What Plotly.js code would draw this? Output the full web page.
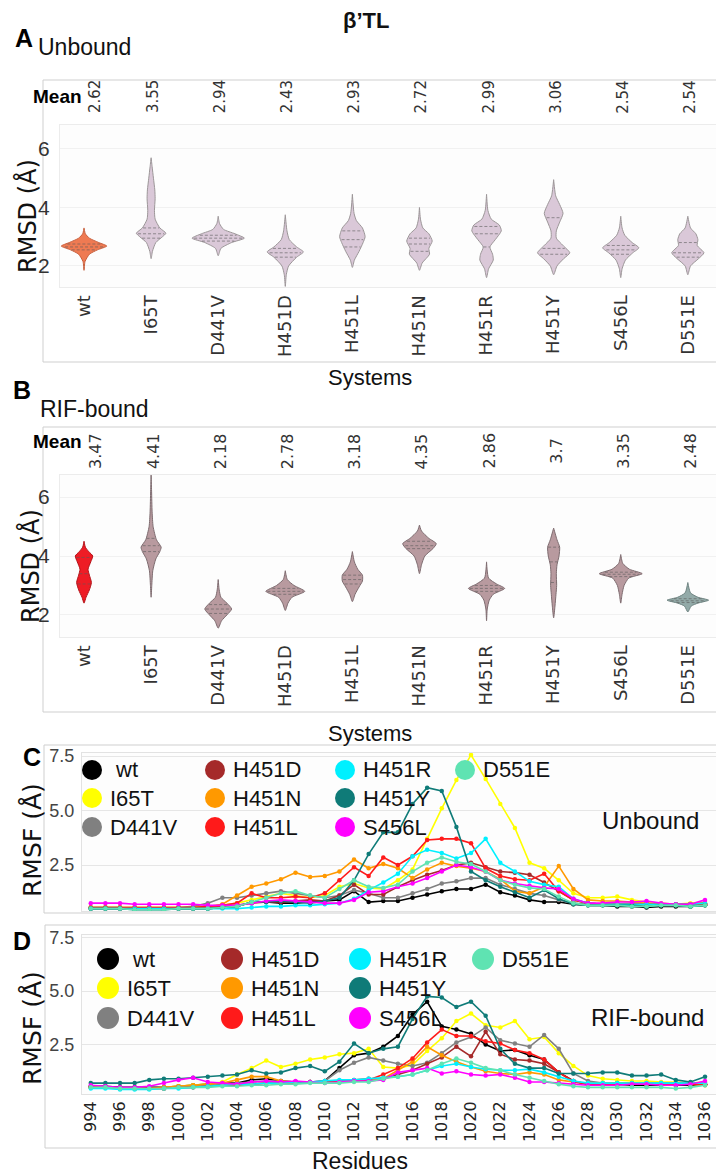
<!DOCTYPE html>
<html>
<head>
<meta charset="utf-8">
<script src="https://cdn.plot.ly/plotly-3.0.1.min.js"></script>
<style>
  html, body { margin: 0; padding: 0; background: #fff; }
  #fig { width: 716px; height: 1175px; }
</style>
</head>
<body>
<div id="fig"></div>
<script>
// ---------- RMSD violin data (panels A and B) ----------
const systems = ['wt', 'I65T', 'D441V', 'H451D', 'H451L', 'H451N', 'H451R', 'H451Y', 'S456L', 'D551E'];
const meanUnbound = [2.62, 3.55, 2.94, 2.43, 2.93, 2.72, 2.99, 3.06, 2.54, 2.54];
const meanBound = [3.47, 4.41, 2.18, 2.78, 3.18, 4.35, 2.86, 3.7, 3.35, 2.48];

// density outline per system: [RMSD, half-width]
const shapeUnbound = [
  [[1.85,0],[2.15,0.015],[2.4,0.08],[2.55,0.2],[2.68,0.34],[2.8,0.22],[2.95,0.08],[3.1,0.02],[3.3,0]],
  [[2.25,0],[2.5,0.02],[2.8,0.07],[3.0,0.17],[3.12,0.22],[3.3,0.13],[3.6,0.06],[3.9,0.05],[4.3,0.06],[4.6,0.055],[5.0,0.035],[5.4,0.015],[5.7,0]],
  [[2.35,0],[2.6,0.04],[2.8,0.2],[2.95,0.39],[3.1,0.25],[3.25,0.08],[3.45,0.02],[3.7,0]],
  [[1.3,0],[1.7,0.015],[2.0,0.05],[2.3,0.17],[2.48,0.27],[2.65,0.17],[2.9,0.06],[3.2,0.025],[3.75,0]],
  [[1.95,0],[2.2,0.03],[2.5,0.1],[2.8,0.16],[3.0,0.19],[3.3,0.15],[3.55,0.06],[3.8,0.025],[4.45,0]],
  [[1.85,0],[2.1,0.04],[2.4,0.15],[2.6,0.14],[2.85,0.19],[3.1,0.14],[3.3,0.05],[3.6,0.015],[4.0,0]],
  [[1.6,0],[1.9,0.03],[2.2,0.1],[2.4,0.09],[2.65,0.05],[2.9,0.13],[3.2,0.22],[3.4,0.19],[3.6,0.07],[3.9,0.02],[4.45,0]],
  [[1.7,0],[2.0,0.05],[2.25,0.15],[2.45,0.24],[2.7,0.14],[2.95,0.04],[3.2,0.04],[3.5,0.09],[3.8,0.14],[4.1,0.09],[4.4,0.03],[4.95,0]],
  [[1.6,0],[1.9,0.02],[2.2,0.07],[2.45,0.18],[2.62,0.27],[2.8,0.17],[3.05,0.06],[3.3,0.02],[3.7,0]],
  [[1.7,0],[2.0,0.04],[2.25,0.16],[2.45,0.24],[2.7,0.14],[2.9,0.15],[3.1,0.12],[3.3,0.04],[3.7,0]]
];
const shapeBound = [
  [[2.4,0],[2.6,0.03],[2.85,0.08],[3.1,0.11],[3.35,0.08],[3.55,0.06],[3.8,0.1],[4.0,0.13],[4.15,0.07],[4.3,0.02],[4.5,0]],
  [[2.6,0],[3.0,0.01],[3.5,0.025],[3.9,0.07],[4.15,0.13],[4.3,0.15],[4.55,0.08],[5.0,0.03],[5.5,0.015],[6.2,0.007],[6.75,0]],
  [[1.55,0],[1.8,0.05],[2.0,0.13],[2.2,0.2],[2.4,0.13],[2.6,0.04],[2.85,0.015],[3.2,0]],
  [[2.15,0],[2.4,0.04],[2.6,0.1],[2.8,0.29],[3.0,0.13],[3.2,0.03],[3.5,0]],
  [[2.45,0],[2.7,0.04],[2.95,0.1],[3.15,0.15],[3.35,0.15],[3.55,0.08],[3.8,0.03],[4.15,0]],
  [[3.4,0],[3.7,0.03],[4.0,0.08],[4.25,0.2],[4.42,0.25],[4.6,0.14],[4.85,0.03],[5.05,0]],
  [[1.8,0],[2.2,0.01],[2.5,0.04],[2.7,0.1],[2.9,0.27],[3.05,0.15],[3.25,0.03],[3.8,0]],
  [[1.9,0],[2.3,0.02],[2.7,0.035],[3.0,0.045],[3.4,0.04],[3.7,0.05],[4.0,0.08],[4.3,0.09],[4.55,0.05],[4.95,0]],
  [[2.4,0],[2.7,0.02],[3.0,0.05],[3.25,0.12],[3.4,0.32],[3.55,0.13],[3.75,0.03],[4.05,0]],
  [[2.1,0],[2.3,0.05],[2.4,0.15],[2.5,0.31],[2.6,0.15],[2.75,0.04],[3.1,0]]
];
// quartiles (Q1, median, Q3)
const quartUnbound = [[2.55,2.65,2.75],[2.95,3.1,3.3],[2.85,2.95,3.05],[2.3,2.45,2.6],[2.65,2.9,3.2],
  [2.5,2.75,2.95],[2.65,3.1,3.35],[2.4,2.6,3.65],[2.4,2.55,2.7],[2.3,2.45,2.8]];
const quartBound = [[3.05,3.4,3.95],[4.15,4.35,4.6],[2.05,2.2,2.35],[2.7,2.8,2.9],[3.05,3.2,3.35],
  [4.25,4.35,4.5],[2.8,2.9,3.0],[3.1,3.8,4.3],[3.3,3.38,3.45],[2.42,2.48,2.55]];

// ---------- RMSF data (panels C and D) ----------
const residues = [994,995,996,997,998,999,1000,1001,1002,1003,1004,1005,1006,1007,1008,1009,1010,1011,1012,1013,
  1014,1015,1016,1017,1018,1019,1020,1021,1022,1023,1024,1025,1026,1027,1028,1029,1030,1031,1032,1033,1034,1035,1036];
const rmsfNames = ['wt','I65T','D441V','H451D','H451N','H451L','H451R','H451Y','S456L','D551E'];
const rmsfColors = ['#000000','#ffff00','#808080','#a52a2a','#ff9900','#ff1a1a','#00f0ff','#0f7b78','#ff00ff','#5fe3b2'];

const wtUnbound    = [0.5,0.5,0.5,0.5,0.5,0.5,0.5,0.5,0.5,0.55, 0.6,0.8,0.8,0.75,0.75,0.8,0.85,0.9,1.3,0.8, 0.85,0.85,1.0,1.15,1.3,1.4,1.4,1.6,1.25,1.1, 0.9,0.8,0.8,0.7,0.65,0.65,0.6,0.6,0.55,0.6, 0.6,0.6,0.65];
const i65tUnbound  = [0.55,0.55,0.55,0.55,0.55,0.55,0.55,0.55,0.6,0.65, 0.75,0.9,1.05,1.2,1.1,1.0,1.1,1.5,1.65,1.45, 1.4,1.8,2.3,3.7,5.1,6.4,7.55,6.45,5.3,4.2, 2.6,2.35,1.8,1.2,1.0,1.0,1.05,0.9,0.8,0.75, 0.7,0.75,0.8];
const d441vUnbound = [0.55,0.55,0.55,0.5,0.5,0.5,0.55,0.6,0.75,1.0, 1.0,1.1,1.2,1.3,1.2,1.1,1.0,1.1,1.35,1.2, 1.0,1.0,1.2,1.4,1.65,1.75,1.9,1.9,1.6,1.4, 1.2,1.1,0.9,0.75,0.7,0.7,0.7,0.7,0.7,0.65, 0.65,0.7,0.7];
const h451dUnbound = [0.5,0.5,0.5,0.5,0.5,0.5,0.5,0.5,0.55,0.6, 0.65,0.75,0.8,0.8,0.85,0.9,0.85,1.1,1.6,1.15, 1.15,1.5,1.8,2.05,2.25,2.5,2.6,2.4,2.2,2.15, 2.05,1.7,1.3,0.9,0.75,0.7,0.7,0.7,0.7,0.7, 0.7,0.7,0.75];
const h451nUnbound = [0.55,0.55,0.55,0.55,0.55,0.55,0.55,0.55,0.6,0.7, 1.1,1.5,1.65,1.85,2.15,1.95,2.0,2.2,2.75,2.35, 2.55,2.35,1.9,2.3,2.6,2.45,2.35,2.2,1.85,1.3, 1.2,1.5,2.45,1.4,0.9,0.85,0.85,0.8,0.75,0.7, 0.7,0.7,0.7];
const h451lUnbound = [0.55,0.55,0.55,0.55,0.55,0.55,0.55,0.55,0.6,0.65, 0.75,1.2,1.0,1.0,1.05,1.0,1.2,1.8,2.4,2.0, 2.85,2.5,2.9,3.65,3.7,3.7,3.5,2.35,2.0,1.85, 1.8,2.1,1.3,0.9,0.75,0.7,0.7,0.7,0.7,0.7, 0.7,0.7,0.7];
const h451rUnbound = [0.5,0.5,0.5,0.5,0.5,0.5,0.5,0.5,0.5,0.5, 0.5,0.55,0.6,0.6,0.65,0.65,0.7,0.75,0.95,1.35, 1.7,2.1,2.9,3.2,3.05,2.8,3.05,3.7,2.6,2.2, 1.75,1.6,1.5,0.95,0.75,0.7,0.7,0.7,0.7,0.7, 0.7,0.7,0.75];
const h451yUnbound = [0.5,0.5,0.5,0.45,0.45,0.45,0.5,0.5,0.5,0.55, 0.6,0.8,0.8,0.85,0.8,0.75,0.85,1.0,1.8,3.0, 4.0,4.0,5.3,6.05,5.9,4.25,2.2,1.8,1.5,1.25, 1.0,1.35,0.95,0.7,0.65,0.65,0.65,0.65,0.6,0.65, 0.65,0.6,0.65];
const s456lUnbound = [0.75,0.75,0.75,0.7,0.7,0.7,0.7,0.7,0.65,0.65, 0.65,0.75,0.85,0.9,0.85,0.8,0.75,0.75,0.9,1.25, 1.3,1.5,1.65,1.9,2.2,2.5,2.4,2.2,1.8,1.65, 1.55,1.45,1.4,0.95,0.75,0.75,0.8,0.8,0.85,0.75, 0.7,0.7,0.9];
const d551eUnbound = [0.5,0.5,0.5,0.45,0.45,0.45,0.5,0.5,0.5,0.55, 0.6,0.8,1.0,1.2,1.3,1.1,1.0,1.4,1.8,1.5, 1.45,1.6,2.2,2.6,2.85,2.65,2.55,2.2,1.8,1.6, 1.45,1.4,1.05,0.75,0.65,0.65,0.65,0.6,0.6,0.65, 0.65,0.6,0.65];

const wtBound    = [0.55,0.55,0.5,0.5,0.5,0.5,0.55,0.6,0.65,0.7, 0.7,0.85,0.9,0.8,0.75,0.75,0.8,1.4,2.0,2.1, 2.4,2.9,3.9,4.5,3.35,3.2,3.0,2.5,2.2,2.25, 2.0,1.8,1.2,0.8,0.65,0.65,0.65,0.6,0.6,0.6, 0.6,0.6,0.65];
const i65tBound  = [0.5,0.5,0.45,0.45,0.45,0.5,0.55,0.6,0.65,0.75, 1.1,1.4,1.75,1.45,1.6,1.8,1.9,2.05,2.1,2.3, 1.45,1.4,1.55,2.2,2.8,3.6,3.95,3.4,3.3,3.6, 2.75,2.85,2.1,1.5,1.05,0.9,0.85,0.8,0.8,0.75, 0.75,0.7,0.75];
const d441vBound = [0.5,0.5,0.45,0.45,0.45,0.5,0.5,0.55,0.6,0.65, 0.7,0.75,0.8,0.8,0.75,0.75,0.8,1.3,1.65,1.9, 1.75,1.6,1.5,1.65,2.1,2.6,2.85,3.3,2.7,2.55, 2.4,2.95,2.3,1.15,0.8,0.7,0.7,0.7,0.7,0.7, 0.7,0.7,0.7];
const h451dBound = [0.5,0.5,0.45,0.45,0.45,0.45,0.5,0.5,0.55,0.6, 0.6,0.65,0.7,0.7,0.75,0.75,0.75,0.8,0.85,0.9, 0.9,1.1,1.3,1.6,1.9,2.4,1.95,3.1,2.05,1.8, 1.75,1.6,1.2,0.8,0.65,0.65,0.65,0.65,0.65,0.65, 0.65,0.65,0.65];
const h451nBound = [0.5,0.5,0.45,0.45,0.45,0.5,0.55,0.6,0.65,0.7, 0.85,1.0,1.0,0.8,0.75,0.75,0.75,0.75,0.8,0.85, 0.9,1.3,1.7,2.4,2.0,1.7,1.45,1.25,1.15,1.1, 1.2,1.1,0.85,0.75,0.7,0.7,0.7,0.7,0.65,0.65, 0.65,0.65,0.6];
const h451lBound = [0.5,0.5,0.45,0.45,0.45,0.45,0.5,0.5,0.55,0.6, 0.6,0.65,0.7,0.7,0.7,0.75,0.75,0.8,0.8,0.85, 1.1,1.4,1.85,2.6,3.2,2.9,2.9,2.65,2.55,2.25, 2.1,1.8,1.2,0.75,0.65,0.65,0.65,0.65,0.65,0.65, 0.65,0.65,0.65];
const h451rBound = [0.45,0.45,0.4,0.4,0.4,0.45,0.45,0.5,0.55,0.6, 0.65,0.65,0.7,0.7,0.75,0.75,0.8,0.85,0.85,0.9, 0.95,1.0,1.1,1.3,1.5,1.6,1.45,1.35,1.3,1.3, 1.35,1.2,1.0,0.8,0.7,0.7,0.7,0.7,0.7,0.7, 0.7,0.7,0.7];
const h451yBound = [0.7,0.7,0.7,0.7,0.85,0.9,0.9,0.95,1.0,1.05, 1.1,1.3,1.15,1.2,1.4,1.5,1.25,1.7,2.55,2.1, 2.3,2.4,3.7,4.75,4.7,4.25,4.5,3.85,2.3,1.6, 1.4,1.4,1.15,1.15,1.15,1.2,1.2,1.05,1.05,1.1, 0.85,0.75,1.0];
const s456lBound = [0.6,0.55,0.5,0.5,0.55,0.7,0.85,0.95,0.75,0.7, 0.65,0.75,0.8,0.75,0.8,0.75,0.7,0.75,0.8,0.8, 0.85,1.2,1.3,1.4,1.15,1.25,1.1,1.05,1.1,0.95, 0.75,0.75,0.7,0.65,0.6,0.6,0.6,0.65,0.65,0.6, 0.6,0.65,0.8];
const d551eBound = [0.5,0.5,0.45,0.45,0.45,0.45,0.5,0.5,0.5,0.55, 0.55,0.6,0.6,0.65,0.65,0.7,0.7,0.7,0.75,0.75, 0.9,1.0,1.1,1.3,1.6,1.85,1.65,1.4,1.3,1.1, 0.95,0.8,0.65,0.55,0.5,0.5,0.5,0.5,0.5,0.5, 0.45,0.5,0.6];

const rmsfUnbound = [wtUnbound, i65tUnbound, d441vUnbound, h451dUnbound, h451nUnbound, h451lUnbound, h451rUnbound, h451yUnbound, s456lUnbound, d551eUnbound];
const rmsfBound = [wtBound, i65tBound, d441vBound, h451dBound, h451nBound, h451lBound, h451rBound, h451yBound, s456lBound, d551eBound];

// ---------- figure helpers ----------
const W = 716, H = 1175;
const px = x => x / W;
const py = y => 1 - y / H;
const NARROW = 'Liberation Sans Narrow, Liberation Sans, Arial, sans-serif';
const SANS = 'Liberation Sans, Arial, sans-serif';
const DEJAVU = 'DejaVu Sans, sans-serif';

function halfWidthAt(profile, v) {
  for (let j = 0; j < profile.length - 1; j++) {
    const [y0, w0] = profile[j], [y1, w1] = profile[j + 1];
    if (v >= y0 && v <= y1) return w0 + (w1 - w0) * (v - y0) / (y1 - y0);
  }
  return 0;
}

const traces = [];
function addViolins(profiles, quarts, xa, ya, fillMain, lineMain, fillOther, lineOther, special) {
  profiles.forEach((prof, i) => {
    const xs = [], ys = [];
    prof.forEach(([v, w]) => { xs.push(i + w); ys.push(v); });
    for (let j = prof.length - 1; j >= 0; j--) { xs.push(i - prof[j][1]); ys.push(prof[j][0]); }
    let fill = i === 0 ? fillMain : fillOther;
    let line = i === 0 ? lineMain : lineOther;
    if (special && special[i]) { fill = special[i][0]; line = special[i][1]; }
    traces.push({
      type: 'scatter', mode: 'lines', x: xs, y: ys, xaxis: xa, yaxis: ya,
      fill: 'toself', fillcolor: fill,
      line: { color: line, width: 1, shape: 'spline', smoothing: 0.6 },
      hoverinfo: 'skip', showlegend: false
    });
    quarts[i].forEach(q => {
      const w = halfWidthAt(prof, q) * 0.92;
      traces.push({
        type: 'scatter', mode: 'lines', x: [i - w, i + w], y: [q, q], xaxis: xa, yaxis: ya,
        line: { color: 'rgba(90,90,90,0.75)', width: 0.8, dash: '3px,2px' },
        hoverinfo: 'skip', showlegend: false
      });
    });
  });
}

addViolins(shapeUnbound, quartUnbound, 'x', 'y', '#ef7a52', '#c8603e', '#dac8d8', '#9c9698');
addViolins(shapeBound, quartBound, 'x2', 'y2', '#ee1c25', '#b31218', '#b89a9f', '#7e6c70',
  { 9: ['#93aaa8', '#6f8482'] });

function addRmsf(sets, xa, ya) {
  sets.forEach((vals, i) => {
    traces.push({
      type: 'scatter', mode: 'lines+markers', x: residues, y: vals, xaxis: xa, yaxis: ya,
      name: rmsfNames[i],
      line: { color: rmsfColors[i], width: 1.6 },
      marker: { color: rmsfColors[i], size: 4.5 },
      hoverinfo: 'skip', showlegend: false
    });
  });
}
addRmsf(rmsfUnbound, 'x3', 'y3');
addRmsf(rmsfBound, 'x4', 'y4');

// ---------- annotations ----------
const ann = [];
function text(t, x, y, size, opts = {}) {
  ann.push(Object.assign({
    text: t, x: px(x), y: py(y), xref: 'paper', yref: 'paper', showarrow: false,
    xanchor: 'center', yanchor: 'middle',
    font: { family: SANS, size: size, color: '#111' }
  }, opts));
}

text('<b>β’TL</b>', 366, 21, 21, { font: { family: NARROW, size: 22, color: '#111' } });
text('<b>A</b>', 24, 38, 26, { font: { family: SANS, size: 25, color: '#000' } });
text('Unbound', 36, 47, 22, { xanchor: 'left', font: { family: NARROW, size: 23, color: '#111' } });
text('<b>B</b>', 22, 390, 26, { font: { family: SANS, size: 25, color: '#000' } });
text('RIF-bound', 38, 409, 22, { xanchor: 'left', font: { family: NARROW, size: 23, color: '#111' } });
text('<b>C</b>', 32, 757, 26, { font: { family: SANS, size: 25, color: '#000' } });
text('<b>D</b>', 22, 941, 26, { font: { family: SANS, size: 25, color: '#000' } });

text('<b>Mean</b>', 57, 97, 19, { font: { family: NARROW, size: 19, color: '#000' } });
text('<b>Mean</b>', 57, 441, 19, { font: { family: NARROW, size: 19, color: '#000' } });

meanUnbound.forEach((m, i) => ann.push({
  text: String(m), x: i, xref: 'x', y: py(97), yref: 'paper', showarrow: false,
  textangle: -90, xanchor: 'center', yanchor: 'middle', xshift: i === 0 ? 11 : 2,
  font: { family: DEJAVU, size: 15, color: '#333' }
}));
meanBound.forEach((m, i) => ann.push({
  text: String(m), x: i, xref: 'x2', y: py(451), yref: 'paper', showarrow: false,
  textangle: -90, xanchor: 'center', yanchor: 'middle', xshift: i === 0 ? 11 : 2,
  font: { family: DEJAVU, size: 16, color: '#333' }
}));

text('Systems', 370, 378, 22, { font: { family: SANS, size: 22, color: '#111' } });
text('Systems', 370, 733, 22, { font: { family: SANS, size: 22, color: '#111' } });
text('RMSD (Å)', 28, 216, 24, { textangle: -90, font: { family: DEJAVU, size: 24, color: '#111' } });
text('RMSD (Å)', 30, 566, 24, { textangle: -90, font: { family: DEJAVU, size: 24, color: '#111' } });
text('RMSF (Å)', 32, 840, 25, { textangle: -90, font: { family: DEJAVU, size: 25, color: '#111' } });
text('RMSF (Å)', 32, 1028, 25, { textangle: -90, font: { family: DEJAVU, size: 25, color: '#111' } });
text('Unbound', 650, 820, 24, { font: { family: SANS, size: 24, color: '#111' } });
text('RIF-bound', 647, 1017, 24, { font: { family: SANS, size: 24, color: '#111' } });
text('Residues', 360, 1161, 23, { font: { family: SANS, size: 23, color: '#111' } });

// ---------- shapes: panel frames and legend dots ----------
const shapes = [];
function frame(x0, y0, x1, y1) {
  shapes.push({ type: 'rect', xref: 'paper', yref: 'paper', x0: px(x0), y0: py(y1), x1: px(x1), y1: py(y0),
    line: { color: '#cfcfcf', width: 1 }, fillcolor: 'rgba(0,0,0,0)', layer: 'below' });
}
frame(43, 80, 730, 362);
frame(43, 427, 730, 712);
frame(44, 745, 730, 913);
frame(45, 925, 730, 1148);

function legendBlock(cols, rows, r) {
  rmsfNames.forEach((name, i) => {
    const c = Math.floor(i / 3), rr = i % 3;
    const cx = cols[c], cy = rows[rr];
    shapes.push({ type: 'circle', xref: 'paper', yref: 'paper',
      x0: px(cx - r), x1: px(cx + r), y0: py(cy + r), y1: py(cy - r),
      fillcolor: rmsfColors[i], line: { width: 0 }, layer: 'above' });
    const label = name === 'wt' ? '&nbsp;wt' : name;
    text(label, cx + r + 6, cy, 22, { xanchor: 'left', font: { family: SANS, size: 22, color: '#111' } });
  });
}
legendBlock([92, 215, 345, 465], [770, 798, 827], 10);
legendBlock([108, 232, 360, 483], [959, 988, 1018], 11);

// ---------- axes ----------
const violinX = (anchor) => ({
  domain: [px(60), 1], range: [-0.358, 9.42], anchor: anchor,
  tickmode: 'array', tickvals: systems.map((s, i) => i), ticktext: systems,
  tickangle: -90, tickfont: { family: DEJAVU, size: 18, color: '#333' },
  showgrid: false, zeroline: false, showline: true, mirror: true, linecolor: '#ececec', ticks: ''
});
const violinY = (anchor, d0, d1, r) => ({
  domain: [py(d1), py(d0)], range: r, anchor: anchor,
  tickmode: 'array', tickvals: [2, 4, 6], ticktext: ['2', '4', '6'],
  tickfont: { family: NARROW, size: 21, color: '#333' }, ticklabelstandoff: 5,
  showgrid: true, gridcolor: '#f1f1f1', zeroline: false, showline: true, mirror: true, linecolor: '#ececec', ticks: ''
});
const rmsfX = (anchor, labels) => ({
  domain: [px(82), 1], range: [993.4, 1036.75], anchor: anchor,
  tickmode: 'linear', tick0: 994, dtick: 2, showticklabels: labels, ticklabeloverflow: 'allow',
  tickangle: -90, tickfont: { family: DEJAVU, size: 16, color: '#222' },
  showgrid: false, zeroline: false, showline: true, mirror: true, linecolor: '#e2e2e2', ticks: ''
});
const rmsfY = (anchor, d0, d1, r) => ({
  domain: [py(d1), py(d0)], range: r, anchor: anchor,
  tickmode: 'array', tickvals: [2.5, 5, 7.5], ticktext: ['2.5', '5.0', '7.5'],
  tickfont: { family: NARROW, size: 18, color: '#444' }, ticklabelstandoff: 3,
  showgrid: true, gridcolor: '#e6e6e6', zeroline: false, showline: true, mirror: true, linecolor: '#e2e2e2', ticks: ''
});

const layout = {
  width: W, height: H, margin: { l: 0, r: 0, t: 0, b: 0 },
  paper_bgcolor: '#ffffff', plot_bgcolor: '#fdfdfd',
  showlegend: false,
  xaxis: violinX('y'),
  yaxis: violinY('x', 125, 287, [1.28, 6.82]),
  xaxis2: violinX('y2'),
  yaxis2: violinY('x2', 475, 637, [1.25, 6.75]),
  xaxis3: rmsfX('y3', false),
  yaxis3: rmsfY('x3', 753, 911, [0.39, 7.64]),
  xaxis4: rmsfX('y4', true),
  yaxis4: rmsfY('x4', 935, 1094, [0.19, 7.62]),
  annotations: ann,
  shapes: shapes
};

Plotly.newPlot('fig', traces, layout, { staticPlot: true, displayModeBar: false });
</script>
</body>
</html>
